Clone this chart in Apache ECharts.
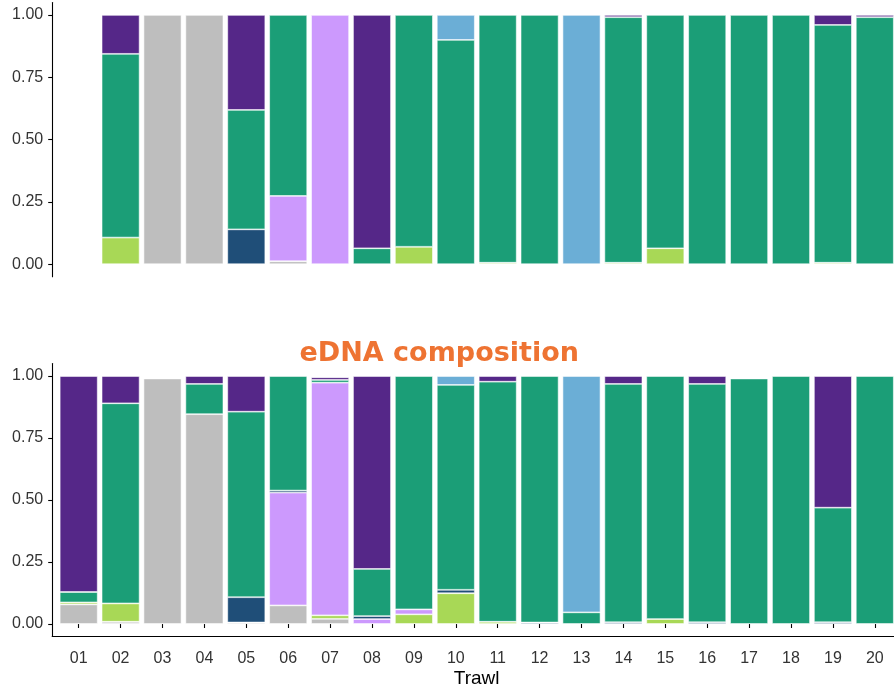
<!DOCTYPE html>
<html>
<head>
<meta charset="utf-8">
<title>Trawl composition</title>
<script src="https://cdn.jsdelivr.net/npm/echarts@6/dist/echarts.min.js"></script>
<style>
  html, body { margin: 0; padding: 0; background: #ffffff; }
  #chart { width: 894px; height: 688px; }
</style>
</head>
<body>
<div id="chart"></div>
<script>
// Trawl labels along the shared x axis
const trawls = ['01','02','03','04','05','06','07','08','09','10',
                '11','12','13','14','15','16','17','18','19','20'];

// Upper panel: proportion per taxon group (trawl 01 has no record)
const topGrey   = [null,0,1,1,0,0.012,0,0,0,0,0,0,0,0,0,0,0,0,0,0];
const topLime   = [null,0.107,0,0,0,0,0,0,0.07,0,0.006,0,0,0.006,0.064,0,0,0,0.006,0];
const topLilac  = [null,0,0,0,0,0.262,1,0,0,0,0,0,0,0,0,0,0,0,0,0];
const topNavy   = [null,0,0,0,0.14,0,0,0,0,0,0,0,0,0,0,0,0,0,0,0];
const topTeal   = [null,0.737,0,0,0.479,0.726,0,0.064,0.93,0.9,0.994,1,0,0.985,0.936,1,1,1,0.954,0.991];
const topSky    = [null,0,0,0,0,0,0,0,0,0.1,0,0,1,0,0,0,0,0,0,0];
const topPurple = [null,0.156,0,0,0.381,0,0,0.936,0,0,0,0,0,0.009,0,0,0,0,0.04,0.009];

// Lower panel: eDNA read proportions per taxon group
const dnaGrey   = [0.079,0.009,0.99,0.846,0.006,0.075,0.021,0,0,0,0,0,0,0,0,0,0,0,0,0];
const dnaLime   = [0.008,0.074,0,0,0,0,0.014,0,0.039,0.124,0.009,0,0,0,0.02,0,0,0,0,0];
const dnaLilac  = [0,0,0,0,0,0.455,0.938,0.02,0.02,0,0,0,0,0,0,0,0,0,0,0];
const dnaNavy   = [0,0,0,0,0.102,0.008,0,0.012,0,0.014,0,0.006,0,0.007,0,0.007,0,0,0.007,0];
const dnaTeal   = [0.042,0.807,0,0.122,0.748,0.462,0.011,0.19,0.941,0.826,0.968,0.994,0.047,0.961,0.98,0.961,0.99,1,0.462,1];
const dnaSky    = [0,0,0,0,0,0,0,0,0,0.036,0,0,0.953,0,0,0,0,0,0,0];
const dnaPurple = [0.871,0.11,0,0.032,0.144,0,0.011,0.778,0,0,0.023,0,0,0.032,0,0.032,0,0,0.531,0];

const yTicks = [0, 0.25, 0.5, 0.75, 1];

// Stack order, bottom to top
const groups = [
  { name: 'grey',   color: '#bebebe', top: topGrey,   dna: dnaGrey },
  { name: 'lime',   color: '#a8d856', top: topLime,   dna: dnaLime },
  { name: 'lilac',  color: '#cc99fd', top: topLilac,  dna: dnaLilac },
  { name: 'navy',   color: '#1f4e78', top: topNavy,   dna: dnaNavy },
  { name: 'teal',   color: '#1b9e77', top: topTeal,   dna: dnaTeal },
  { name: 'sky',    color: '#6baed6', top: topSky,    dna: dnaSky },
  { name: 'purple', color: '#552788', top: topPurple, dna: dnaPurple }
];

// Empty shares are left blank instead of drawing zero-height bars
const blankZeros = values => values.map(v => (v ? v : '-'));

const series = [];
groups.forEach(g => {
  [['top', 0], ['dna', 1]].forEach(([key, idx]) => {
    series.push({
      name: g.name,
      type: 'bar',
      xAxisIndex: idx,
      yAxisIndex: idx,
      stack: key,
      barWidth: 38,
      silent: true,
      itemStyle: { color: g.color, borderColor: 'rgba(255,255,255,0.7)', borderWidth: 0.8 },
      data: blankZeros(g[key])
    });
  });
});

const font = 'Liberation Sans, Arial, sans-serif';
const axisText = { color: '#333333', fontSize: 16, fontFamily: font };
const blackLine = { color: '#000000', width: 1.1 };

// Panel geometry: bars sit in the inner grids, axis frames in the outer ones
const panels = [{ top: 2.5, height: 274.2 }, { top: 363.6, height: 272.8 }];
const barGrids = panels.map(p => ({ left: 57.75, right: -1.75, top: p.top, height: p.height, outerBoundsMode: 'none' }));
const frameGrids = panels.map(p => ({ left: 52.2, right: -7, top: p.top, height: p.height, outerBoundsMode: 'none' }));

const hiddenY = gi => ({ type: 'value', gridIndex: gi, min: -0.05, max: 1.05, show: false, splitLine: { show: false } });
const frameY = gi => ({
  type: 'value', gridIndex: gi, min: -0.05, max: 1.05,
  splitLine: { show: false },
  axisLine: { show: true, lineStyle: blackLine },
  axisTick: { show: true, length: 4, customValues: yTicks, lineStyle: blackLine },
  axisLabel: Object.assign({ customValues: yTicks, margin: 9, formatter: v => v.toFixed(2) }, axisText)
});

const chart = echarts.init(document.getElementById('chart'), null, { renderer: 'canvas' });
chart.setOption({
  animation: false,
  backgroundColor: '#ffffff',
  grid: barGrids.concat(frameGrids),
  xAxis: [
    { type: 'category', gridIndex: 0, data: trawls, show: false },
    {
      type: 'category', gridIndex: 1, data: trawls,
      axisLine: { show: false },
      axisTick: { show: true, alignWithLabel: true, length: 4, lineStyle: blackLine },
      axisLabel: Object.assign({ margin: 14, interval: 0 }, axisText)
    },
    { type: 'value', gridIndex: 2, min: 0, max: 1, show: false, splitLine: { show: false } },
    {
      type: 'value', gridIndex: 3, min: 0, max: 1,
      splitLine: { show: false },
      axisLine: { show: true, onZero: false, lineStyle: blackLine },
      axisTick: { show: false },
      axisLabel: { show: false },
      name: 'Trawl', nameLocation: 'middle', nameGap: 33,
      nameTextStyle: { color: '#000000', fontSize: 19, fontFamily: font }
    }
  ],
  yAxis: [hiddenY(0), hiddenY(1), frameY(2), frameY(3)],
  graphic: [{
    type: 'text', left: 299.5, top: 340,
    style: {
      text: 'eDNA composition',
      fill: '#ee7332',
      font: 'bold 27px "DejaVu Sans", sans-serif'
    }
  }],
  series: series
});
</script>
</body>
</html>
